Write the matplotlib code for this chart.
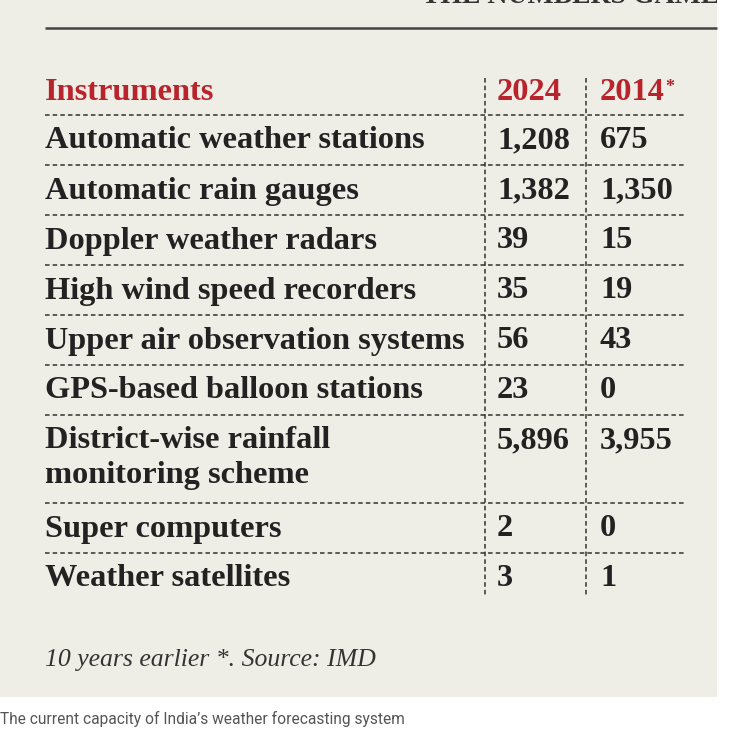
import matplotlib.pyplot as plt
from matplotlib.patches import Rectangle

# table content
instruments = [
    "Automatic weather stations",
    "Automatic rain gauges",
    "Doppler weather radars",
    "High wind speed recorders",
    "Upper air observation systems",
    "GPS-based balloon stations",
    "District-wise rainfall\nmonitoring scheme",
    "Super computers",
    "Weather satellites",
]
values_2024 = ["1,208", "1,382", "39", "35", "56", "23", "5,896", "2", "3"]
values_2014 = ["675", "1,350", "15", "19", "43", "0", "3,955", "0", "1"]
headers = ["Instruments", "2024", "2014"]
footnote = "10 years earlier *. Source: IMD"
caption = "The current capacity of India\u2019s weather forecasting system"

W, H = 745, 731
bg = "#eeede6"
red = "#b8232c"
ink = "#222222"
serif = "Liberation Serif"

fig = plt.figure(figsize=(W / 100, H / 100), dpi=100)
ax = fig.add_axes([0, 0, 1, 1])
ax.set_xlim(0, W)
ax.set_ylim(H, 0)
ax.axis("off")
fig.patch.set_facecolor("white")

ax.add_patch(Rectangle((0, 0), 717, 697, facecolor=bg, edgecolor="none", zorder=0))

# heading cut off by the top edge of the screenshot
ax.text(422, 3, "THE NUMBERS GAME IN IMD", fontsize=20, fontweight="bold",
        family=serif, color="#333333", va="baseline", ha="left", zorder=1)
ax.add_patch(Rectangle((717, 0), 40, 20, facecolor="white", edgecolor="none", zorder=2))
ax.plot([45, 717], [28, 28], color="#444444", lw=1.8, solid_capstyle="butt")

x_label, x_c1, x_c2 = 45, 497, 600
x_v1, x_v2 = 485, 586
line_end = 684
fs = 23.3

# header row
ax.text(x_label, 92, headers[0], fontsize=fs, fontweight="bold", family=serif,
        color=red, va="center", ha="left")
ax.text(x_c1, 92, headers[1], fontsize=fs, fontweight="bold", family=serif,
        color=red, va="center", ha="left")
t14 = ax.text(x_c2, 92, headers[2], fontsize=fs, fontweight="bold", family=serif,
              color=red, va="center", ha="left")
ax.annotate("*", xy=(1, 0.95), xycoords=t14, xytext=(0.5, 0), textcoords="offset points",
            fontsize=13, fontweight="bold", family=serif, color=red,
            va="top", ha="left")

dash = dict(color="#333333", lw=1.1, linestyle=(0, (3, 2)))
y_sep = 115
ax.plot([x_label, line_end], [y_sep, y_sep], **dash)

row_h = 50
y = y_sep
for name, v1, v2 in zip(instruments, values_2024, values_2014):
    n_lines = name.count("\n") + 1
    h = row_h + (n_lines - 1) * 38
    if n_lines == 1:
        ax.text(x_label, y + 26, name, fontsize=fs, fontweight="bold", family=serif,
                color=ink, va="center", ha="left")
    else:
        ax.text(x_label, y + 11, name, fontsize=fs, fontweight="bold", family=serif,
                color=ink, va="top", ha="left", linespacing=1.25)
    ax.text(x_c1, y + 26, v1, fontsize=fs, fontweight="bold", family=serif,
            color=ink, va="center", ha="left")
    ax.text(x_c2, y + 26, v2, fontsize=fs, fontweight="bold", family=serif,
            color=ink, va="center", ha="left")
    y += h
    if name != instruments[-1]:
        ax.plot([x_label, line_end], [y, y], **dash)

ax.plot([x_v1, x_v1], [78, 596], **dash)
ax.plot([x_v2, x_v2], [78, 596], **dash)

ax.text(x_label, 660, footnote, fontsize=18.5, fontstyle="italic", family=serif,
        color="#333333", va="center", ha="left")
ax.text(0, 719, caption, fontsize=11.2, family="Roboto", color="#555555",
        va="center", ha="left")

fig.savefig("out.png", dpi=100, facecolor="white")
